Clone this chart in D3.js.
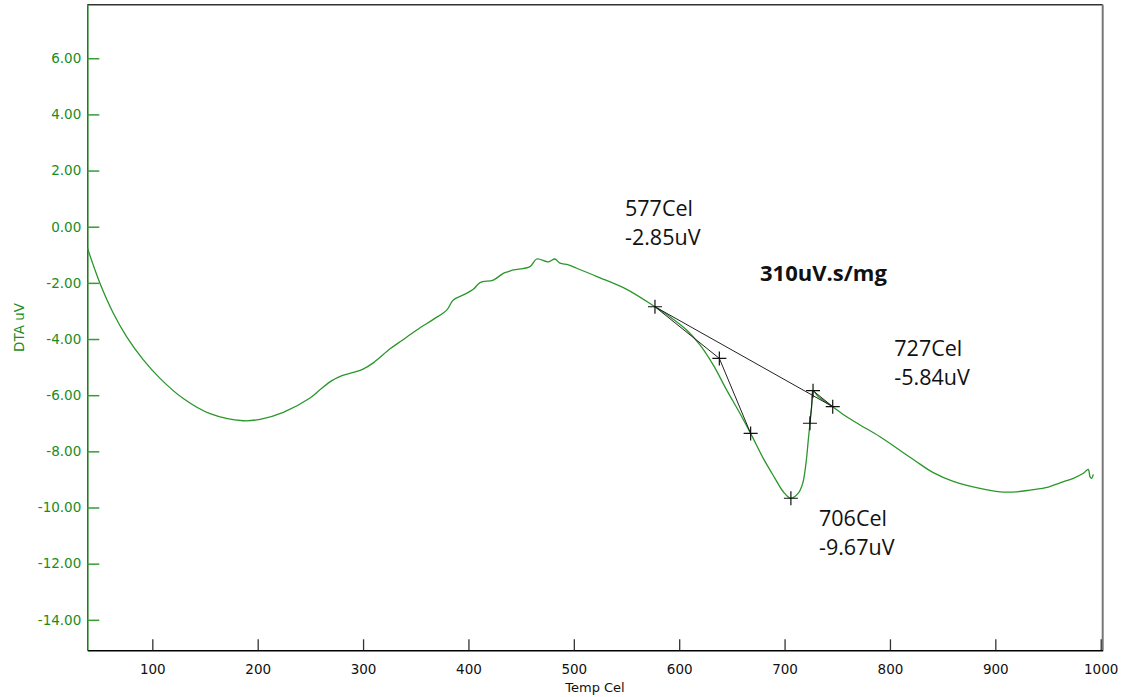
<!DOCTYPE html>
<html>
<head>
<meta charset="utf-8">
<script src="https://cdn.jsdelivr.net/npm/d3@7"></script>
<style>
  body { margin: 0; background: #fff; }
  svg { display: block; }
</style>
</head>
<body>
<svg></svg>
<script>
// DTA curve
const temps = [38.5, 50.4, 63, 75.7, 91.5, 107.3, 129.4, 154.8, 186.4, 202.2, 224.3, 249.7,
  260, 270, 280, 290, 300, 310, 325.6, 335.1, 350.9, 366.7, 379.4, 385.6, 395.1, 404.6,
  411, 423.6, 433.1, 437.8, 442.6, 458.4, 464.8, 475.8, 482.1, 486.9, 494.8, 502.7, 518.5,
  524.9, 550.2, 577, 591.3, 607.1, 619.7, 632.4, 645.1, 657.7, 667.8, 679.8, 690.9, 698.8,
  706, 713, 717.2, 720.3, 722.5, 724.1, 725.7, 727, 732, 745.7, 759, 771.6, 790.5, 822.2,
  841.1, 860.1, 885.4, 904.6, 920.3, 932.9, 950.3, 961.4, 974, 983.5, 988.2, 989.8, 991.4, 993];
const dta = [-0.77, -2.02, -3.08, -3.92, -4.74, -5.4, -6.12, -6.66, -6.91, -6.86, -6.61, -6.1,
  -5.78, -5.49, -5.3, -5.2, -5.07, -4.84, -4.35, -4.1, -3.68, -3.3, -2.97, -2.61, -2.43, -2.23,
  -1.99, -1.9, -1.66, -1.6, -1.54, -1.42, -1.15, -1.25, -1.15, -1.3, -1.36, -1.48, -1.72,
  -1.82, -2.23, -2.85, -3.21, -3.68, -4.21, -4.93, -5.82, -6.65, -7.36, -8.25, -8.96, -9.44,
  -9.67, -9.49, -9.14, -8.43, -7.6, -7.0, -6.41, -5.84, -6.05, -6.41, -6.77, -7.06, -7.48, -8.29,
  -8.76, -9.07, -9.32, -9.44, -9.44, -9.38, -9.27, -9.12, -8.96, -8.78, -8.64, -8.9, -8.96, -8.82];

// peak evaluation marks
const markT = [577, 638.1, 667.8, 706, 724.1, 727, 745.7];
const markV = [-2.85, -4.69, -7.36, -9.67, -7.0, -5.84, -6.41];
const onsetIdx = [0, 1, 2];
const endsetIdx = [4, 5, 6];
const baseIdx = [0, 6];

const xTicks = [100, 200, 300, 400, 500, 600, 700, 800, 900, 1000];
const yTicks = [-14, -12, -10, -8, -6, -4, -2, 0, 2, 4, 6];

const width = 1125;
const height = 697;
const m = { left: 87.3, right: 1102.7, top: 4.7, bottom: 650.3 };

const green = "#1a8c1a";
const tickFont = "'DejaVu Sans', Verdana, sans-serif";
const noteFont = "'Segoe UI', 'Open Sans', sans-serif";

const svg = d3.select("svg").attr("width", width).attr("height", height);

const x = d3.scaleLinear().domain([38.3, 1001.9]).range([m.left, m.right]);
const y = d3.scaleLinear().domain([-15.085, 7.906]).range([m.bottom, m.top]);

// frame
svg.append("line").attr("x1", m.left).attr("x2", m.right).attr("y1", m.top).attr("y2", m.top)
  .attr("stroke", "#333").attr("stroke-width", 1.5);
svg.append("line").attr("x1", m.right).attr("x2", m.right).attr("y1", m.top).attr("y2", m.bottom)
  .attr("stroke", "#777").attr("stroke-width", 2);

// x axis
const gx = svg.append("g")
  .attr("transform", `translate(0,${m.bottom})`)
  .call(d3.axisBottom(x).tickValues(xTicks).tickSizeInner(-11).tickSizeOuter(0).tickPadding(14).tickFormat(d3.format("d")));
gx.select(".domain").attr("stroke", "#000").attr("stroke-width", 1.5);
gx.selectAll(".tick line").attr("stroke", "#333").attr("stroke-width", 1.3);
gx.selectAll(".tick text").attr("fill", "#111").style("font-family", tickFont).style("font-size", "13.5px");

svg.append("text")
  .attr("x", (m.left + m.right) / 2).attr("y", 691.5)
  .attr("text-anchor", "middle")
  .style("font-family", tickFont).style("font-size", "13px").attr("fill", "#111")
  .text("Temp Cel");

// y axis, plain hyphen for the minus sign
const fmt = (d) => d.toFixed(2);
const gy = svg.append("g")
  .attr("transform", `translate(${m.left},0)`)
  .call(d3.axisLeft(y).tickValues(yTicks).tickSizeInner(-12).tickSizeOuter(0).tickPadding(6).tickFormat(fmt));
gy.select(".domain").attr("stroke", "#0b7d0b").attr("stroke-width", 1.5);
gy.selectAll(".tick line").attr("stroke", "#3a9a3a").attr("stroke-width", 1.5);
gy.selectAll(".tick text").attr("fill", green).style("font-family", tickFont).style("font-size", "13.5px");

svg.append("text")
  .attr("transform", `translate(24,${(m.top + m.bottom) / 2}) rotate(-90)`)
  .attr("text-anchor", "middle")
  .style("font-family", tickFont).style("font-size", "13.5px").attr("fill", green)
  .text("DTA uV");

// curve
const line = d3.line()
  .x((d, i) => x(temps[i]))
  .y((d) => y(d))
  .curve(d3.curveCatmullRom.alpha(0.5));

svg.append("path")
  .datum(dta)
  .attr("fill", "none")
  .attr("stroke", "#2a972a")
  .attr("stroke-width", 1.3)
  .attr("d", line);

// evaluation lines
const markLine = d3.line()
  .x((i) => x(markT[i]))
  .y((i) => y(markV[i]));

[baseIdx, onsetIdx, endsetIdx].forEach((idx) => {
  svg.append("path")
    .attr("fill", "none")
    .attr("stroke", "#222")
    .attr("stroke-width", 1)
    .attr("d", markLine(idx));
});

svg.selectAll(".mark")
  .data(markT)
  .join("path")
  .attr("class", "mark")
  .attr("transform", (d, i) => `translate(${x(d)},${y(markV[i])})`)
  .attr("d", "M-7,0H7M0,-7V7")
  .attr("stroke", "#111")
  .attr("stroke-width", 1.2);

// annotations
const notes = [
  { x: 625, y: 216, lines: ["577Cel", "-2.85uV"] },
  { x: 894.3, y: 356, lines: ["727Cel", "-5.84uV"] },
  { x: 819, y: 525.7, lines: ["706Cel", "-9.67uV"] }
];

notes.forEach((n) => {
  n.lines.forEach((t, k) => {
    svg.append("text")
      .attr("x", n.x).attr("y", n.y + k * 29)
      .style("font-family", noteFont).style("font-size", "21.5px").attr("fill", "#111")
      .text(t);
  });
});

svg.append("text")
  .attr("x", 760).attr("y", 280.7)
  .style("font-family", noteFont).style("font-size", "22px").style("font-weight", "bold").attr("fill", "#111")
  .text("310uV.s/mg");
</script>
</body>
</html>
